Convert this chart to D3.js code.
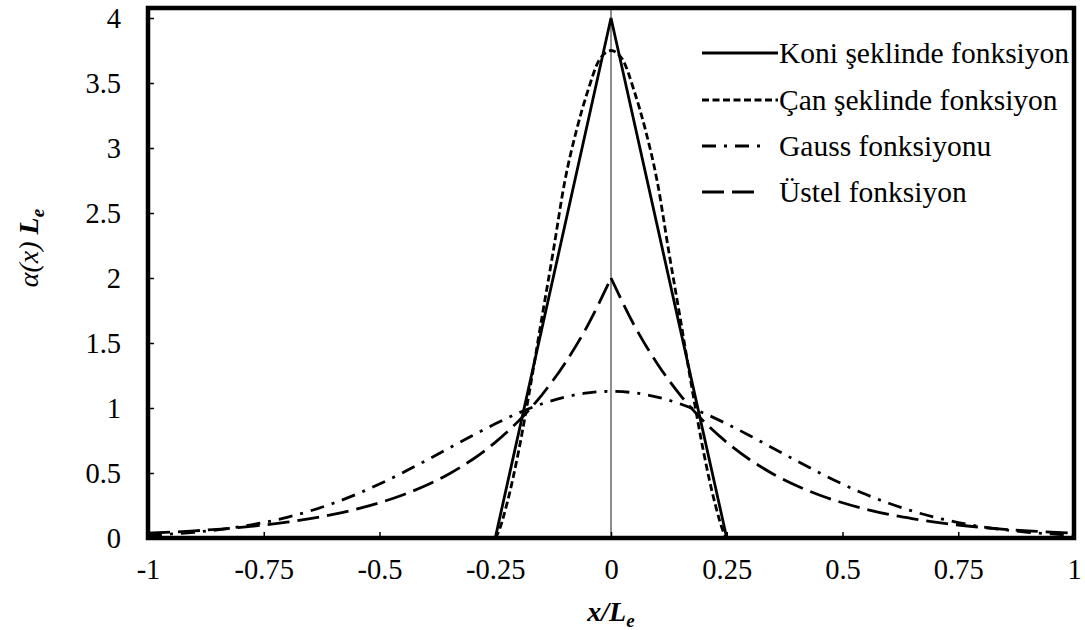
<!DOCTYPE html>
<html>
<head>
<meta charset="utf-8">
<script src="https://cdn.jsdelivr.net/npm/d3@7"></script>
<style>
  html, body { margin: 0; padding: 0; background: #fff; }
  svg { display: block; font-family: "Liberation Serif", "Times New Roman", Times, "DejaVu Serif", serif; }
</style>
</head>
<body>
<svg id="chart" width="1085" height="630"></svg>
<script>
// Axis ticks
const xTickValues = [-1, -0.75, -0.5, -0.25, 0, 0.25, 0.5, 0.75, 1];
const xTickLabels = ["-1", "-0.75", "-0.5", "-0.25", "0", "0.25", "0.5", "0.75", "1"];
const yTickValues = [0, 0.5, 1, 1.5, 2, 2.5, 3, 3.5, 4];
const yTickLabels = ["0", "0.5", "1", "1.5", "2", "2.5", "3", "3.5", "4"];

// Series names (legend order)
const seriesNames = ["Koni şeklinde fonksiyon", "Çan şeklinde fonksiyon", "Gauss fonksiyonu", "Üstel fonksiyon"];

// Cone-shaped kernel
const koniX = [-0.25, 0, 0.25];
const koniY = [0, 4, 0];

// Bell-shaped kernel
const canX = [-0.25, -0.245, -0.225, -0.2, -0.175, -0.15, -0.125, -0.1, -0.075, -0.05, -0.025, 0,
              0.025, 0.05, 0.075, 0.1, 0.125, 0.15, 0.175, 0.2, 0.225, 0.245, 0.25];
const canY = [0, 0.03, 0.26, 0.66, 1.15, 1.68, 2.20, 2.74, 3.13, 3.44, 3.68, 3.75,
              3.68, 3.44, 3.13, 2.74, 2.20, 1.68, 1.15, 0.66, 0.26, 0.03, 0];

// Gaussian and exponential kernels, sampled over the full range
const wideX = [-1, -0.95, -0.9, -0.85, -0.8, -0.75, -0.7, -0.65, -0.6, -0.55, -0.5, -0.45, -0.4, -0.35, -0.3, -0.25, -0.2, -0.15, -0.1, -0.05, 0,
               0.05, 0.1, 0.15, 0.2, 0.25, 0.3, 0.35, 0.4, 0.45, 0.5, 0.55, 0.6, 0.65, 0.7, 0.75, 0.8, 0.85, 0.9, 0.95, 1];
const gaussY = [0.021, 0.031, 0.044, 0.063, 0.087, 0.119, 0.159, 0.208, 0.267, 0.336, 0.415, 0.502, 0.595, 0.691, 0.787, 0.878, 0.961, 1.031, 1.084, 1.117, 1.128,
                1.117, 1.084, 1.031, 0.961, 0.878, 0.787, 0.691, 0.595, 0.502, 0.415, 0.336, 0.267, 0.208, 0.159, 0.119, 0.087, 0.063, 0.044, 0.031, 0.021];
const ustelY = [0.037, 0.045, 0.055, 0.067, 0.082, 0.100, 0.122, 0.149, 0.181, 0.222, 0.271, 0.331, 0.404, 0.493, 0.602, 0.736, 0.899, 1.098, 1.341, 1.637, 2.0,
                1.637, 1.341, 1.098, 0.899, 0.736, 0.602, 0.493, 0.404, 0.331, 0.271, 0.222, 0.181, 0.149, 0.122, 0.100, 0.082, 0.067, 0.055, 0.045, 0.037];

// Layout
const plot = { left: 148, right: 1074, top: 8, bottom: 538 };
const yTop = 4.077;
const tickFont = 28.5;
const legendFont = 29.5;
const serif = "Liberation Serif, Times New Roman, Times, DejaVu Serif, serif";

const svg = d3.select("#chart");

const x = d3.scaleLinear().domain([-1, 1]).range([plot.left, plot.right]);
const y = d3.scaleLinear().domain([0, yTop]).range([plot.bottom, plot.top]);

// vertical reference line at x = 0
svg.append("line")
  .attr("x1", x(0)).attr("x2", x(0))
  .attr("y1", plot.top).attr("y2", plot.bottom)
  .attr("stroke", "#808080").attr("stroke-width", 1.8);

const zip = (xs, ys) => xs.map((v, i) => [v, ys[i]]);

const lineLinear = d3.line().x(d => x(d[0])).y(d => y(d[1]));
const lineSmooth = d3.line().x(d => x(d[0])).y(d => y(d[1])).curve(d3.curveMonotoneX);

const styles = [
  { dash: null, width: 2.8 },
  { dash: "7,3.5", width: 2.8 },
  { dash: "14,8,3,8", width: 2.8 },
  { dash: "22,8", width: 2.8 }
];

const gCurves = svg.append("g").attr("fill", "none").attr("stroke", "#000");

// cone
gCurves.append("path").attr("d", lineLinear(zip(koniX, koniY)))
  .attr("stroke-width", styles[0].width).attr("stroke-linejoin", "miter");
// bell
gCurves.append("path").attr("d", lineSmooth(zip(canX, canY)))
  .attr("stroke-width", styles[1].width).attr("stroke-dasharray", styles[1].dash);
// gaussian
gCurves.append("path").attr("d", lineSmooth(zip(wideX, gaussY)))
  .attr("stroke-width", styles[2].width).attr("stroke-dasharray", styles[2].dash);
// exponential: two halves so the peak stays sharp
const ust = zip(wideX, ustelY);
const mid = wideX.indexOf(0);
gCurves.append("path")
  .attr("d", lineSmooth(ust.slice(0, mid + 1)) + lineSmooth(ust.slice(mid)))
  .attr("stroke-width", styles[3].width).attr("stroke-dasharray", styles[3].dash);

// axes (ticks inside the frame)
const xAxis = d3.axisBottom(x).tickValues(xTickValues)
  .tickFormat((d, i) => xTickLabels[i]).tickSizeInner(-6).tickSizeOuter(0).tickPadding(21);
const gx = svg.append("g").attr("transform", `translate(0,${plot.bottom})`).call(xAxis);
gx.select(".domain").remove();
gx.selectAll(".tick line").attr("stroke", "#000").attr("stroke-width", 1.5);
gx.selectAll(".tick text").attr("font-size", tickFont).attr("fill", "#000").attr("font-family", serif);

const yAxis = d3.axisLeft(y).tickValues(yTickValues)
  .tickFormat((d, i) => yTickLabels[i]).tickSizeInner(-6).tickSizeOuter(0).tickPadding(27);
const gy = svg.append("g").attr("transform", `translate(${plot.left},0)`).call(yAxis);
gy.select(".domain").remove();
gy.selectAll(".tick line").attr("stroke", "#000").attr("stroke-width", 1.5);
gy.selectAll(".tick text").attr("font-size", tickFont).attr("fill", "#000").attr("font-family", serif);

// frame
svg.append("rect")
  .attr("x", plot.left).attr("y", plot.top)
  .attr("width", plot.right - plot.left).attr("height", plot.bottom - plot.top)
  .attr("fill", "none").attr("stroke", "#000").attr("stroke-width", 4.5);

// axis titles
const xt = svg.append("text")
  .attr("x", x(0)).attr("y", 621)
  .attr("text-anchor", "middle").attr("font-size", 28).attr("font-family", serif)
  .attr("font-style", "italic").attr("font-weight", "bold");
xt.append("tspan").text("x/L");
xt.append("tspan").attr("font-size", 19).attr("dy", 6).text("e");

const yt = svg.append("text")
  .attr("transform", "translate(38,248) rotate(-90)")
  .attr("text-anchor", "middle").attr("font-size", 28).attr("font-family", serif)
  .attr("font-style", "italic");
yt.append("tspan").text("α(x) ");
yt.append("tspan").attr("font-weight", "bold").text("L");
yt.append("tspan").attr("font-weight", "bold").attr("font-size", 19).attr("dy", 6).text("e");

// legend
const legendRows = [53, 100, 146, 192];
const legendLen = [76, 76, 62, 60];
const legend = svg.append("g");
seriesNames.forEach((name, i) => {
  legend.append("line")
    .attr("x1", 702).attr("x2", 702 + legendLen[i])
    .attr("y1", legendRows[i]).attr("y2", legendRows[i])
    .attr("stroke", "#000").attr("stroke-width", styles[i].width)
    .attr("stroke-dasharray", styles[i].dash);
  legend.append("text")
    .attr("x", 779).attr("y", legendRows[i] + 10)
    .attr("font-size", legendFont).attr("font-family", serif).attr("fill", "#000")
    .text(name);
});
</script>
</body>
</html>
